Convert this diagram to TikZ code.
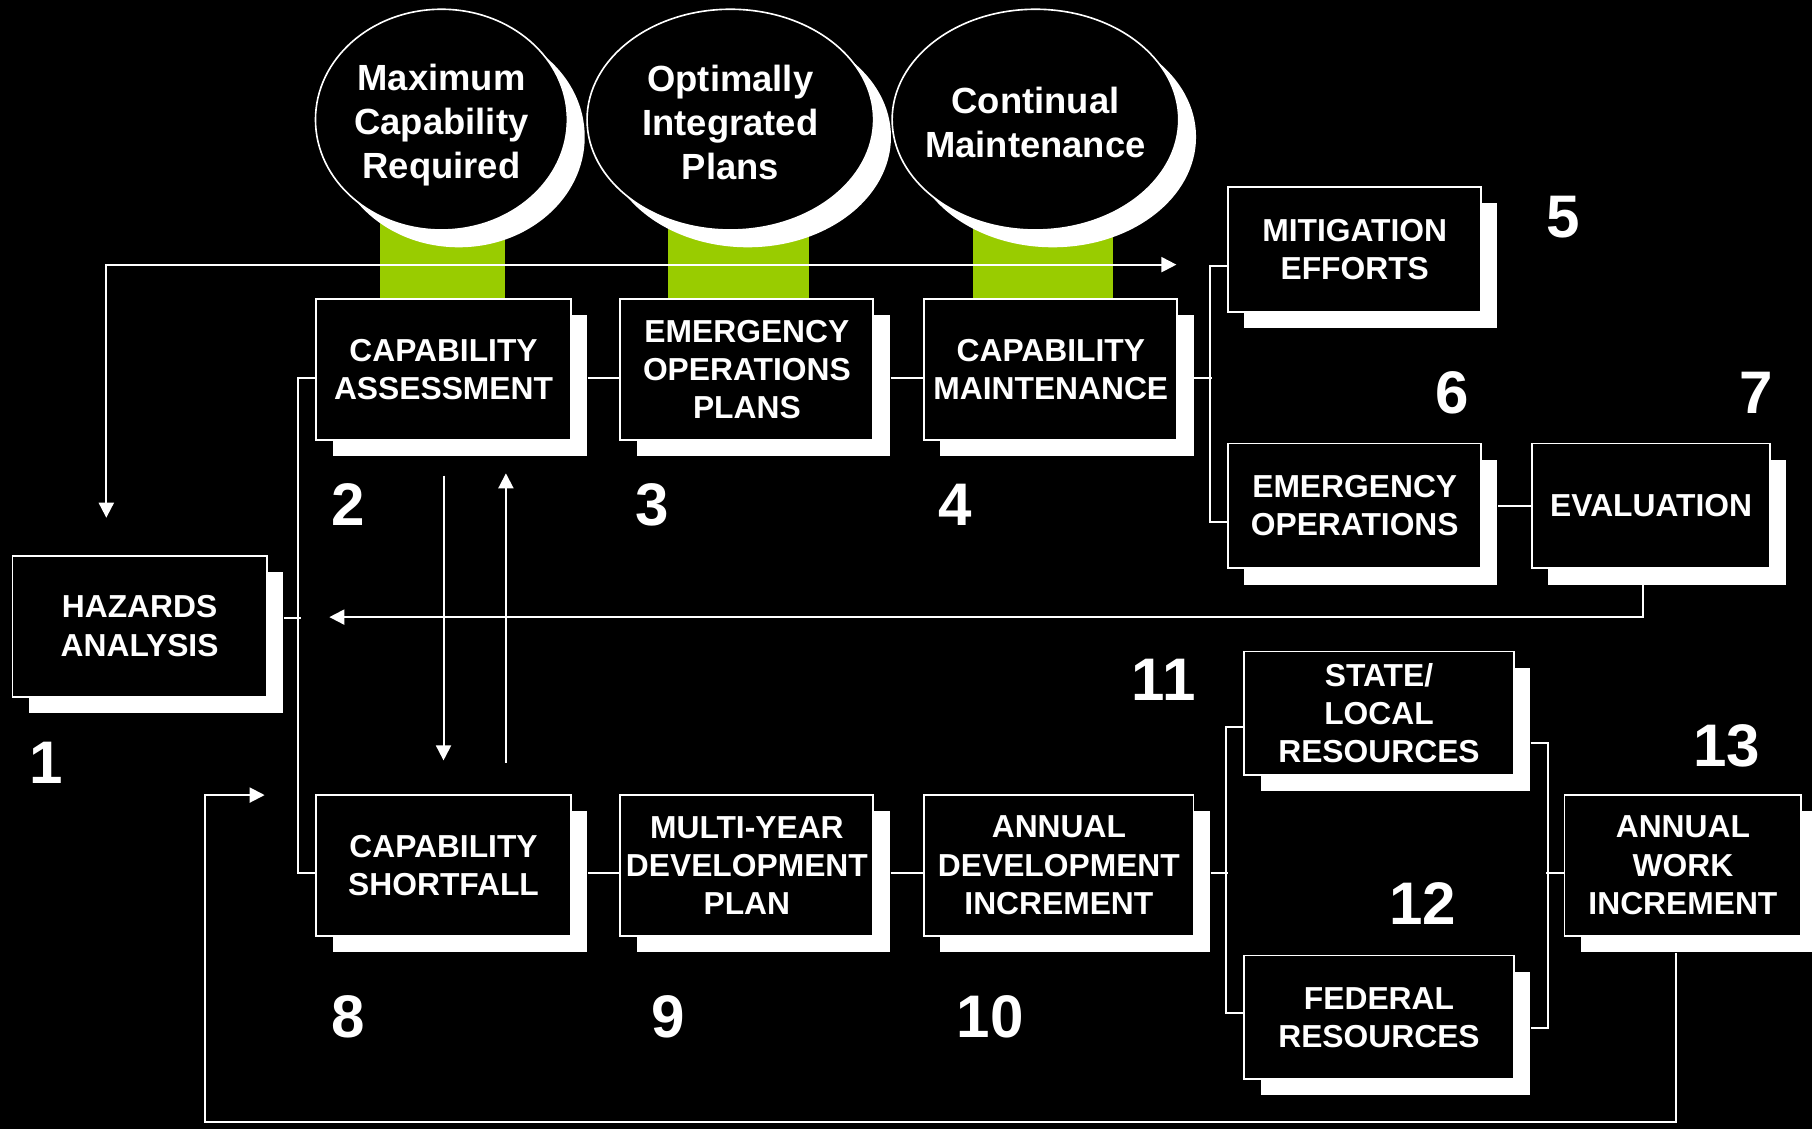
\documentclass[tikz,border=0pt]{standalone}
\usepackage{fontspec}
\setmainfont{Liberation Sans}
\usetikzlibrary{arrows.meta,shapes.geometric,shadows,calc}
\definecolor{lime}{HTML}{99CC00}
\pgfdeclarelayer{back}
\pgfdeclarelayer{wires}
\pgfsetlayers{back,wires,main}
\newcommand\boxfont{\fontsize{27.5}{33}\selectfont\bfseries}
\newcommand\ovalfont{\fontsize{31.5}{38}\selectfont\bfseries}
\newcommand\numfont{\fontsize{52}{60}\selectfont\bfseries}
\begin{document}
\begin{tikzpicture}[x=1pt,y=-1pt,
  >={Triangle[length=13pt,width=13pt]},
  box/.style={rectangle, draw=white, line width=1.6pt, fill=black, text=white,
    font=\boxfont, align=center, inner sep=0pt, anchor=north west,
    drop shadow={shadow xshift=14pt, shadow yshift=-14pt, fill=white, opacity=1}},
  oval/.style={ellipse, draw=white, line width=1.4pt, fill=black,
    inner sep=0pt, minimum height=191pt,
    drop shadow={shadow xshift=15pt, shadow yshift=-15pt, fill=white, opacity=1}},
  ovaltxt/.style={text=white, font=\ovalfont, align=center, inner sep=0pt},
  num/.style={text=white, font=\numfont, inner sep=0pt},
  wire/.style={draw=white, line width=1.7pt}]

\begin{pgfonlayer}{back}
  \fill[black] (0,0) rectangle (1568,977);
\end{pgfonlayer}
\useasboundingbox (0,0) rectangle (1568,977);

% ovals
\node[oval, minimum width=218pt,
  label={[ovaltxt, yshift=-5pt]center:{Maximum\\Capability\\Required}}] (e1) at (382,103.5) {};
\node[oval, minimum width=248pt,
  label={[ovaltxt, yshift=-2.5pt]center:{Optimally\\Integrated\\Plans}}] (e2) at (632,103.5) {};
\node[oval, minimum width=248pt,
  label={[ovaltxt, yshift=-2.5pt]center:{Continual\\Maintenance}}] (e3) at (896,103.5) {};

% boxes
\node[box, minimum width=220pt, minimum height=122pt] (haz)  at (10,480)   {HAZARDS\\ANALYSIS};
\node[box, minimum width=220pt, minimum height=122pt] (capA) at (273,258)  {CAPABILITY\\ASSESSMENT};
\node[box, minimum width=219pt, minimum height=122pt] (eop)  at (536,258)  {EMERGENCY\\OPERATIONS\\PLANS};
\node[box, minimum width=219pt, minimum height=122pt] (capM) at (799,258)  {CAPABILITY\\MAINTENANCE};
\node[box, minimum width=219pt, minimum height=108pt] (mit)  at (1062,161) {MITIGATION\\EFFORTS};
\node[box, minimum width=219pt, minimum height=108pt] (eo)   at (1062,383) {EMERGENCY\\OPERATIONS};
\node[box, minimum width=206pt, minimum height=108pt] (eval) at (1325,383) {EVALUATION};
\node[box, minimum width=220pt, minimum height=122pt] (capS) at (273,687)  {CAPABILITY\\SHORTFALL};
\node[box, minimum width=219pt, minimum height=122pt] (myd)  at (536,687)  {MULTI-YEAR\\DEVELOPMENT\\PLAN};
\node[box, minimum width=233pt, minimum height=122pt] (adi)  at (799,687)  {ANNUAL\\DEVELOPMENT\\INCREMENT};
\node[box, minimum width=233pt, minimum height=107pt] (sl)   at (1076,563) {STATE/\\LOCAL\\RESOURCES};
\node[box, minimum width=233pt, minimum height=107pt] (fed)  at (1076,826) {FEDERAL\\RESOURCES};
\node[box, minimum width=205pt, minimum height=122pt] (awi)  at (1353,687) {ANNUAL\\WORK\\INCREMENT};

% numbers
\node[num] (n1)  at (40,660)   {1};
\node[num] (n2)  at (301,437)  {2};
\node[num] (n3)  at (564,437)  {3};
\node[num] (n4)  at (827,437)  {4};
\node[num] (n5)  at (1353,188) {5};
\node[num] (n6)  at (1257,340) {6};
\node[num] (n7)  at (1520,340) {7};
\node[num] (n8)  at (301,880)  {8};
\node[num] (n9)  at (578,880)  {9};
\node[num] (n10) at (857,880)  {10};
\node[num] (n11) at (1007,588) {11};
\node[num] (n12) at (1231,782) {12};
\node[num] (n13) at (1494,645) {13};

% free ends
\coordinate (hazIn)  at (92,448);
\coordinate (mitIn)  at (1018,229);
\coordinate (hazRet) at (285,534);
\coordinate (retBot) at (177,971);
\coordinate (capSIn) at (229,688);

\begin{pgfonlayer}{back}
  \fill[lime] (329,180) rectangle (437,258);
  \fill[lime] (578,180) rectangle (700,258);
  \fill[lime] (842,180) rectangle (963,258);
\end{pgfonlayer}

\begin{pgfonlayer}{wires}
  % top feedback line
  \draw[wire,<->] (hazIn) |- (mitIn);
  % left bracket
  \draw[wire] ([yshift=-7pt]capA.west) -| ([xshift=-15pt,yshift=-7pt]capS.west) -- ([yshift=-7pt]capS.west);
  \draw[wire] ([xshift=14pt,yshift=7pt]haz.east) -- ++(15,0);
  % upper chain
  \draw[wire] ([xshift=14pt,yshift=-7pt]capA.east) -- ([yshift=-7pt]eop.west);
  \draw[wire] ([xshift=14pt,yshift=-7pt]eop.east) -- ([yshift=-7pt]capM.west);
  \draw[wire] ([xshift=14pt,yshift=-7pt]capM.east) -- ++(15,0);
  \draw[wire] ([yshift=-14pt]mit.west) -| ([xshift=-15pt,yshift=-14pt]eo.west) -- ([yshift=-14pt]eo.west);
  \draw[wire] ([xshift=14pt]eo.east) -- (eval.west);
  % evaluation return
  \draw[wire,->] ([xshift=-7pt,yshift=-14pt]eval.south) |- (hazRet);
  % assessment <-> shortfall
  \draw[wire,->] ([yshift=-30pt]capA.south) -- ([yshift=29pt]capS.north);
  \draw[wire,->] ([xshift=54pt,yshift=27pt]capS.north) -- ([xshift=54pt,yshift=-28pt]capA.south);
  % lower chain
  \draw[wire] ([xshift=14pt,yshift=-7pt]capS.east) -- ([yshift=-7pt]myd.west);
  \draw[wire] ([xshift=14pt,yshift=-7pt]myd.east) -- ([yshift=-7pt]adi.west);
  \draw[wire] ([xshift=14pt,yshift=-7pt]adi.east) -- ++(15,0);
  \draw[wire] ([yshift=-12pt]sl.west) -| ([xshift=-15pt,yshift=4pt]fed.west) -- ([yshift=4pt]fed.west);
  \draw[wire] ([xshift=14pt,yshift=-26pt]sl.east) -| ([xshift=29pt,yshift=-9pt]fed.east) -- ([xshift=14pt,yshift=-9pt]fed.east);
  \draw[wire] ([xshift=-15pt,yshift=-7pt]awi.west) -- ([yshift=-7pt]awi.west);
  % bottom return
  \draw[wire,->] ([xshift=-6pt,yshift=-14pt]awi.south) |- (retBot) |- (capSIn);
\end{pgfonlayer}
\end{tikzpicture}
\end{document}
